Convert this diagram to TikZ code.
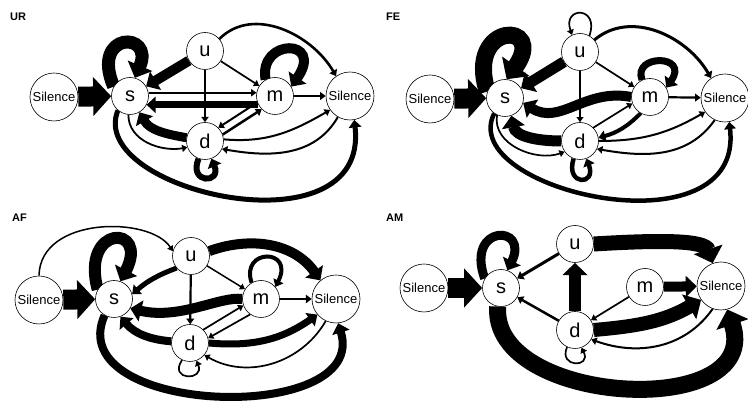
\documentclass[tikz,border=0pt]{standalone}
\usepackage{fontspec}
\setmainfont{Liberation Sans}
\usetikzlibrary{arrows.meta,backgrounds}
\begin{document}
\begin{tikzpicture}[x=1pt,y=1pt,
 st/.style={circle,draw,line width=0.6pt,fill=white,minimum size=37pt,inner sep=0pt,font=\fontsize{20}{20}\selectfont},
 sil/.style={circle,draw,line width=0.6pt,fill=white,minimum size=48pt,inner sep=0pt,font=\fontsize{13}{13}\selectfont},
 lab/.style={font=\bfseries\fontsize{11}{11}\selectfont,anchor=west,inner sep=0pt},
 ed/.style={line width=#1,-{Triangle[length=4pt 0.7,width=4pt 1.7]}},
]
\useasboundingbox (0,0) rectangle (748,406);
% ---------------- UR ----------------
\node[lab] (lUR) at (10,389) {UR};
\node[sil] (SLa) at (54,309) {Silence};
\node[st] (sa) at (130,310) {s};
\node[st] (ua) at (205,355) {u};
\node[st] (ma) at (275,310) {m};
\node[sil] (SRa) at (350,310) {Silence};
\node[st] (da) at (205,265) {d};
% ---------------- FE ----------------
\node[lab] (lFE) at (386,389) {FE};
\node[sil] (SLb) at (430,307) {Silence};
\node[st] (sb) at (505,308) {s};
\node[st] (ub) at (580,354) {u};
\node[st] (mb) at (650,309) {m};
\node[sil] (SRb) at (725,308) {Silence};
\node[st] (db) at (580,265) {d};
% ---------------- AF ----------------
\node[lab] (lAF) at (12,188) {AF};
\node[sil] (SLc) at (39,106) {Silence};
\node[st] (sc) at (114,107) {s};
\node[st] (uc) at (191,150) {u};
\node[st] (mc) at (261,107) {m};
\node[sil] (SRc) at (336,107) {Silence};
\node[st] (dc) at (190,63) {d};
% ---------------- AM ----------------
\node[lab] (lAM) at (386,188) {AM};
\node[sil] (SLd) at (424,118) {Silence};
\node[st] (sd) at (501,118) {s};
\node[st] (ud) at (575,162) {u};
\node[st] (md) at (645,119) {m};
\node[sil] (SRd) at (721,120) {Silence};
\node[st] (dd) at (575,76) {d};

\begin{scope}[on background layer]
% ===== UR edges =====
\draw[ed=20] (SLa) -- (sa);
\draw[ed=13] (sa.150) .. controls (90,375) and (155,375) .. (sa.75);
\draw[ed=10] (ua) -- (sa);
\draw[ed=1.7] (ua) -- (ma);
\draw[ed=2] (ua) -- (da);
\draw[ed=2.6] (ua.40) to[out=45,in=120] (SRa.125);
\draw[ed=1.8] (sa.10) -- (ma.170);
\draw[ed=7] (ma.208) -- (sa.332);
\draw[ed=10] (ma.120) .. controls (258,368) and (325,368) .. (ma.30);
\draw[ed=2.2] (ma) -- (SRa);
\draw[ed=2] (ma.200) -- (da.45);
\draw[ed=2.5] (da.20) -- (ma.225);
\draw[ed=9] (da.170) to[out=170,in=-60] (sa.300);
\draw[ed=1.8] (sa.265) to[out=-90,in=190] (da.200);
\draw[ed=5] (sa.230) .. controls (85,215) and (370,150) .. (SRa.280);
\draw[ed=6] (da.250) .. controls (188,222) and (222,222) .. (da.290);
\draw[ed=2] (da.5) to[out=-5,in=210] (SRa.215);
\draw[ed=2] (SRa.240) to[out=240,in=-10] (da.335);
% ===== FE edges =====
\draw[ed=20] (SLb) -- (sb);
\draw[ed=17] (sb.160) .. controls (465,385) and (548,385) .. (sb.85);
\draw[ed=11] (ub) -- (sb);
\draw[ed=1.7] (ub.60) .. controls (600,400) and (562,400) .. (ub.115);
\draw[ed=1.7] (ub) -- (mb);
\draw[ed=1.7] (ub) -- (db);
\draw[ed=3] (ub.40) to[out=40,in=120] (SRb.125);
\draw[ed=10] (mb.180) .. controls (585,318) and (560,280) .. (sb.345);
\draw[ed=7] (mb.115) .. controls (632,352) and (690,352) .. (mb.30);
\draw[ed=2.2] (mb) -- (SRb);
\draw[ed=1.7] (db.45) -- (mb.200);
\draw[ed=4] (mb.240) to[bend left=15] (db.10);
\draw[ed=11] (db.180) to[out=180,in=-80] (sb.290);
\draw[ed=1.7] (sb.245) to[out=-100,in=200] (db.215);
\draw[ed=4.5] (sb.235) .. controls (455,215) and (745,150) .. (SRb.280);
\draw[ed=4.5] (db.250) .. controls (565,220) and (597,220) .. (db.290);
\draw[ed=2] (db.0) to[out=0,in=210] (SRb.215);
\draw[ed=2] (SRb.245) to[out=235,in=-10] (db.335);
% ===== AF edges =====
\draw[ed=20] (SLc) -- (sc);
\draw[ed=1.5] (SLc.north) .. controls (40,190) and (150,190) .. (uc.165);
\draw[ed=12] (sc.150) .. controls (80,182) and (150,182) .. (sc.70);
\draw[ed=5] (uc.220) to[bend right=10] (sc.15);
\draw[ed=1.5] (uc) -- (mc);
\draw[ed=2.2] (uc) -- (dc);
\draw[ed=10] (uc.15) to[out=20,in=125] (SRc.130);
\draw[ed=10] (mc.180) .. controls (220,110) and (180,86) .. (sc.330);
\draw[ed=4] (mc.120) .. controls (240,158) and (295,158) .. (mc.40);
\draw[ed=2.5] (mc) -- (SRc);
\draw[ed=1.7] (dc.45) -- (mc.200);
\draw[ed=1.7] (mc.235) -- (dc.15);
\draw[ed=8] (dc.175) to[out=175,in=-50] (sc.290);
\draw[ed=8] (sc.240) .. controls (60,-10) and (370,-20) .. (SRc.275);
\draw[ed=7] (dc.0) to[out=-5,in=215] (SRc.220);
\draw[ed=1.7] (SRc.245) to[out=240,in=-30] (dc.320);
\draw[ed=1.7] (dc.245) .. controls (168,25) and (205,25) .. (dc.290);
% ===== AM edges =====
\draw[ed=20] (SLd) -- (sd);
\draw[ed=9] (sd.150) .. controls (465,182) and (530,182) .. (sd.70);
\draw[ed=3] (ud) -- (sd);
\draw[ed=12] (dd) -- (ud);
\draw[ed=15] (ud.east) .. controls (660,166) and (705,166) .. (SRd.110);
\draw[ed=2.5] (dd) -- (sd);
\draw[ed=10] (md) -- (SRd);
\draw[ed=1.7] (md) -- (dd);
\draw[ed=14] (dd.0) to[out=5,in=210] (SRd.215);
\draw[ed=2] (SRd.250) to[out=235,in=-20] (dd.330);
\draw[ed=1.7] (dd.245) .. controls (558,38) and (592,38) .. (dd.290);
\draw[ed=17] (sd.260) .. controls (490,0) and (765,-15) .. (SRd.285);
\end{scope}
\end{tikzpicture}
\end{document}
